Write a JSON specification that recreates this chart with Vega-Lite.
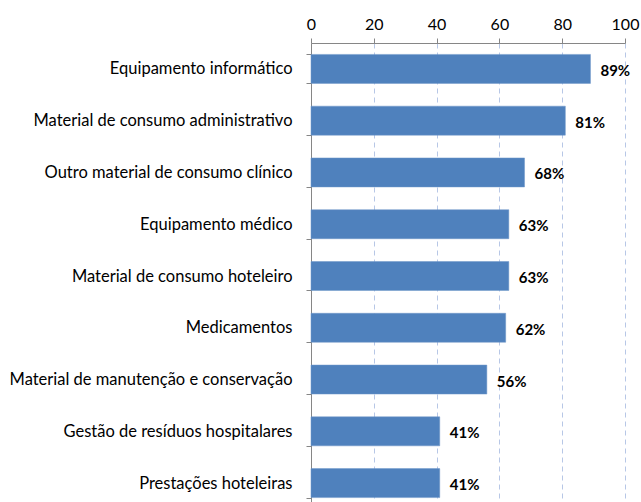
{
  "$schema": "https://vega.github.io/schema/vega-lite/v6.json",
  "autosize": "none",
  "width": 314,
  "height": 466,
  "padding": {"left": 311, "top": 43, "right": 16, "bottom": 0},
  "background": "white",
  "config": {"view": {"stroke": null}, "font": "Lato"},
  "data": {
    "values": [
      {"cat": "Equipamento informático", "v": 89, "lbl": "89%"},
      {"cat": "Material de consumo administrativo", "v": 81, "lbl": "81%"},
      {"cat": "Outro material de consumo clínico", "v": 68, "lbl": "68%"},
      {"cat": "Equipamento médico", "v": 63, "lbl": "63%"},
      {"cat": "Material de consumo hoteleiro", "v": 63, "lbl": "63%"},
      {"cat": "Medicamentos", "v": 62, "lbl": "62%"},
      {"cat": "Material de manutenção e conservação", "v": 56, "lbl": "56%"},
      {"cat": "Gestão de resíduos hospitalares", "v": 41, "lbl": "41%"},
      {"cat": "Prestações hoteleiras", "v": 41, "lbl": "41%"}
    ]
  },
  "encoding": {
    "y": {
      "field": "cat", "type": "nominal", "sort": null, "title": null,
      "scale": {"paddingInner": 0.44, "paddingOuter": 0.22},
      "axis": {
        "tickBand": "extent", "domainColor": "#868686", "tickColor": "#868686",
        "tickSize": 5, "labelPadding": 14, "labelFontSize": 16.5, "labelColor": "#000000",
        "labelFont": "Lato", "grid": false, "labelLimit": 400
      }
    }
  },
  "layer": [
    {
      "mark": {"type": "bar", "color": "#4F81BD", "stroke": "#6E97C9", "strokeWidth": 0.5},
      "encoding": {
        "x": {
          "field": "v", "type": "quantitative", "title": null,
          "scale": {"domain": [0, 100], "nice": false},
          "axis": {
            "orient": "top", "values": [0, 20, 40, 60, 80, 100],
            "grid": true, "gridColor": "#B7C7E6", "gridDash": [5, 4], "gridWidth": 1,
            "domainColor": "#868686", "tickColor": "#868686", "tickSize": 5,
            "labelFontSize": 16, "labelColor": "#000000", "labelPadding": 6,
            "labelFont": "Lato", "labelFlush": false
          }
        }
      }
    },
    {
      "mark": {"type": "text", "align": "left", "dx": 10, "fontWeight": "bold", "fontSize": 15, "color": "#000000", "dy": 2},
      "encoding": {
        "x": {"field": "v", "type": "quantitative"},
        "text": {"field": "lbl", "type": "nominal"}
      }
    }
  ]
}
